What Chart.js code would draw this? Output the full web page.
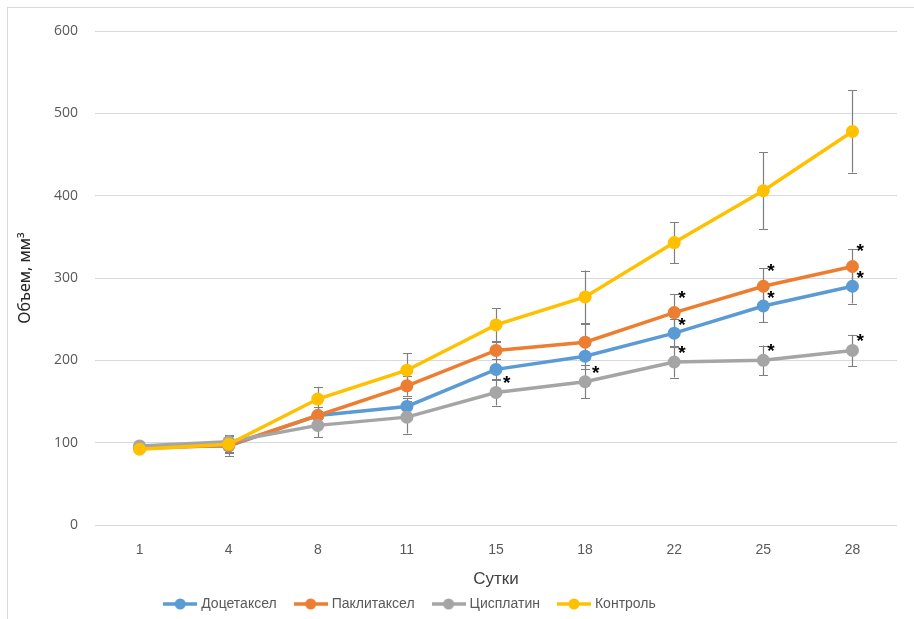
<!DOCTYPE html>
<html>
<head>
<meta charset="utf-8">
<script src="https://cdn.jsdelivr.net/npm/chart.js@4.4.1/dist/chart.umd.min.js"></script>
<style>
  html, body { margin: 0; padding: 0; background: #fff; }
  #wrap { position: relative; width: 914px; height: 619px; overflow: hidden; }
  #frame { position: absolute; left: 7px; top: 7px; width: 930px; height: 640px; border: 1px solid #d9d9d9; box-sizing: border-box; }
  canvas { position: absolute; left: 0; top: 0; }
</style>
</head>
<body>
<div id="wrap">
  <div id="frame"></div>
  <canvas id="c" width="914" height="619"></canvas>
</div>
<script>
const days = ['1', '4', '8', '11', '15', '18', '22', '25', '28'];
const seriesNames = ['Доцетаксел', 'Паклитаксел', 'Цисплатин', 'Контроль'];

const docetaxel  = [95, 96, 133, 144, 189, 205, 233, 266, 290];
const paclitaxel = [93, 97, 133, 169, 212, 222, 258, 290, 314];
const cisplatin  = [96, 101, 121, 131, 161, 174, 198, 200, 212];
const control    = [92, 98, 153, 188, 243, 277, 343, 406, 478];

const docetaxelErr  = [2, 12, 10, 10, 13, 15, 17, 20, 21];
const paclitaxelErr = [2, 8, 10, 12, 10, 22, 22, 22, 21];
const cisplatinErr  = [2, 8, 14, 20, 16, 20, 19, 18, 19];
const controlErr    = [2, 10, 15, 21, 20, 32, 25, 47, 50];

const docetaxelStar  = [0, 0, 0, 0, 0, 0, 1, 1, 1];
const paclitaxelStar = [0, 0, 0, 0, 0, 0, 1, 1, 1];
const cisplatinStar  = [0, 0, 0, 0, 1, 1, 1, 1, 1];
const controlStar    = [0, 0, 0, 0, 0, 0, 0, 0, 0];

const yTicks = [0, 100, 200, 300, 400, 500, 600];

const colors = ['#5B9BD5', '#ED7D31', '#A5A5A5', '#FFC000'];
const values = [docetaxel, paclitaxel, cisplatin, control];
const errs = [docetaxelErr, paclitaxelErr, cisplatinErr, controlErr];
const stars = [docetaxelStar, paclitaxelStar, cisplatinStar, controlStar];
const starLift = [13, 20, 14, 0];

function legendIcon(color) {
  const cv = document.createElement('canvas');
  cv.width = 34; cv.height = 14;
  const g = cv.getContext('2d');
  g.strokeStyle = color; g.lineWidth = 3.5;
  g.beginPath(); g.moveTo(0, 7); g.lineTo(34, 7); g.stroke();
  g.fillStyle = color;
  g.beginPath(); g.arc(17, 7, 5.5, 0, Math.PI * 2); g.fill();
  return cv;
}
const icons = colors.map(legendIcon);

const legendShift = {
  id: 'legendShift',
  afterLayout(chart) {
    const lg = chart.legend;
    if (!lg) return;
    lg.left -= 37.5; lg.right -= 37.5;
    lg.top += 2; lg.bottom += 2;
  }
};

const errorBars = {
  id: 'errorBars',
  beforeDatasetsDraw(chart) {
    const ctx = chart.ctx;
    const y = chart.scales.y;
    ctx.save();
    ctx.strokeStyle = '#7f7f7f';
    ctx.lineWidth = 1.2;
    chart.data.datasets.forEach((ds, di) => {
      const meta = chart.getDatasetMeta(di);
      meta.data.forEach((pt, i) => {
        const v = ds.data[i], e = errs[di][i];
        const yt = y.getPixelForValue(v + e), yb = y.getPixelForValue(v - e);
        const x = Math.round(pt.x) + 0.5;
        ctx.beginPath();
        ctx.moveTo(x, yt); ctx.lineTo(x, yb);
        ctx.moveTo(x - 4.5, Math.round(yt) + 0.5); ctx.lineTo(x + 4.5, Math.round(yt) + 0.5);
        ctx.moveTo(x - 4.5, Math.round(yb) + 0.5); ctx.lineTo(x + 4.5, Math.round(yb) + 0.5);
        ctx.stroke();
      });
    });
    ctx.restore();
  },
  afterDatasetsDraw(chart) {
    const ctx = chart.ctx;
    ctx.save();
    ctx.fillStyle = '#000';
    ctx.font = 'bold 19px "Liberation Sans", Arial, sans-serif';
    ctx.textAlign = 'left';
    ctx.textBaseline = 'alphabetic';
    chart.data.datasets.forEach((ds, di) => {
      const meta = chart.getDatasetMeta(di);
      meta.data.forEach((pt, i) => {
        if (!stars[di][i]) return;
        const dx = i < 6 ? 7 : 4;
        ctx.fillText('*', pt.x + dx, pt.y - starLift[di] + 11);
      });
    });
    ctx.restore();
  }
};

const datasets = seriesNames.map((name, i) => ({
  label: name,
  data: values[i],
  borderColor: colors[i],
  backgroundColor: colors[i],
  borderWidth: 3.5,
  pointRadius: 6.5,
  pointHoverRadius: 6.5,
  pointBackgroundColor: colors[i],
  pointBorderWidth: 0,
  tension: 0,
  order: 4 - i
}));

new Chart(document.getElementById('c'), {
  type: 'line',
  data: { labels: days, datasets },
  plugins: [errorBars, legendShift],
  options: {
    responsive: false,
    animation: false,
    layout: { padding: { top: 31, right: 17, left: 0, bottom: 0 } },
    plugins: {
      tooltip: { enabled: false },
      legend: {
        position: 'bottom',
        labels: {
          usePointStyle: true,
          pointStyleWidth: 28,
          boxHeight: 14,
          padding: 20,
          color: '#595959',
          font: { family: '"Liberation Sans", Arial, sans-serif', size: 14 },
          generateLabels(chart) {
            return chart.data.datasets.map((ds, i) => ({
              text: ds.label,
              pointStyle: icons[i],
              fillStyle: colors[i],
              strokeStyle: colors[i],
              lineWidth: 0,
              hidden: false,
              datasetIndex: i,
              fontColor: '#595959'
            }));
          }
        }
      }
    },
    scales: {
      x: {
        offset: true,
        afterFit(scale) { scale.height = 50; },
        grid: { display: false },
        border: { display: false },
        ticks: {
          color: '#595959',
          padding: 9,
          font: { family: '"Liberation Sans", Arial, sans-serif', size: 14 }
        },
        title: {
          display: true,
          text: 'Сутки',
          color: '#404040',
          padding: { top: 4, bottom: -15 },
          font: { family: '"Liberation Sans", Arial, sans-serif', size: 17 }
        }
      },
      y: {
        min: 0, max: 600,
        afterBuildTicks(scale) { scale.ticks = yTicks.map(v => ({ value: v })); },
        afterFit(scale) { scale.width = 95; },
        grid: { color: '#d9d9d9', lineWidth: 1, drawTicks: false },
        border: { display: false },
        ticks: {
          color: '#595959',
          padding: 17,
          font: { family: '"Open Sans", "Liberation Sans", Arial, sans-serif', size: 14 }
        },
        title: {
          display: true,
          text: 'Объем, мм³',
          color: '#262626',
          padding: { top: 16, bottom: 0 },
          font: { family: '"Noto Sans", "DejaVu Sans", sans-serif', size: 16 }
        }
      }
    }
  }
});
</script>
</body>
</html>
